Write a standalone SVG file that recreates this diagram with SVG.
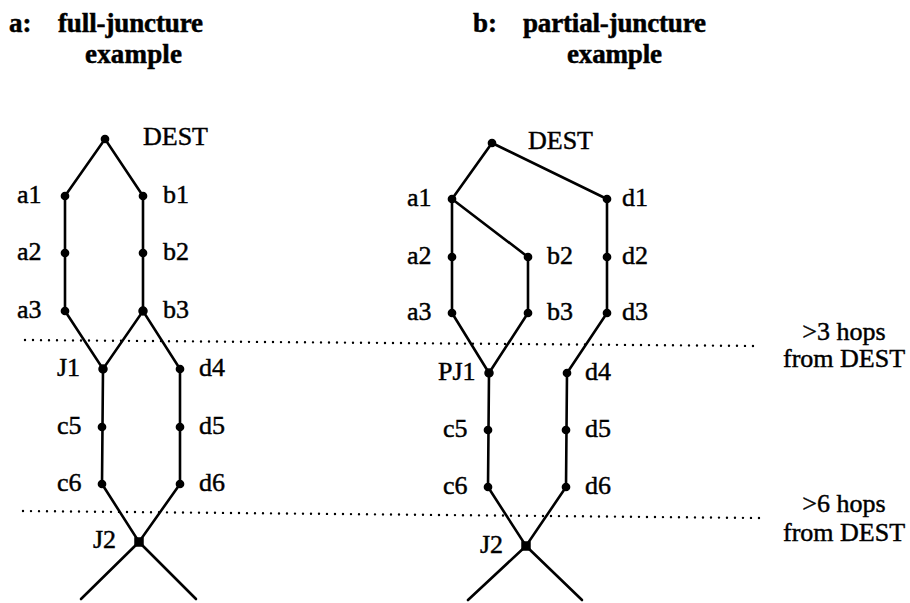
<svg xmlns="http://www.w3.org/2000/svg" width="910" height="603" viewBox="0 0 910 603">
  <style>
    .bg { fill: #ffffff; }
    .title { font-family: "Liberation Serif", "Times New Roman", serif; font-weight: bold; font-size: 27px; fill: #000; stroke: #000; stroke-width: 0.5; }
    .lbl { font-family: "Liberation Serif", "Times New Roman", serif; font-size: 26px; fill: #000; stroke: #000; stroke-width: 0.45; }
    .edge { stroke: #000; stroke-width: 2.6; fill: none; stroke-linecap: round; }
    .dots { stroke: #000; stroke-width: 2.4; fill: none; stroke-linecap: round; stroke-dasharray: 0 8; }
    .node { fill: #000; stroke: #000; stroke-width: 1.5; }
  </style>
  <rect class="bg" x="0" y="0" width="910" height="603"/>

  <!-- titles -->
  <g id="title-a">
    <text class="title" x="9" y="32">a:</text>
    <text class="title" x="58" y="32" textLength="145">full-juncture</text>
    <text class="title" x="85" y="63" textLength="97">example</text>
  </g>
  <g id="title-b">
    <text class="title" x="473" y="32">b:</text>
    <text class="title" x="523" y="32" textLength="183">partial-juncture</text>
    <text class="title" x="567" y="63" textLength="95">example</text>
  </g>

  <!-- hop-distance boundaries -->
  <g id="boundaries">
    <line class="dots" x1="25" y1="340" x2="760" y2="346"/>
    <line class="dots" x1="23" y1="511" x2="760" y2="518"/>
    <text class="lbl" x="844" y="340" text-anchor="middle">&gt;3 hops</text>
    <text class="lbl" x="844" y="367" text-anchor="middle">from DEST</text>
    <text class="lbl" x="844" y="512" text-anchor="middle">&gt;6 hops</text>
    <text class="lbl" x="844" y="541" text-anchor="middle">from DEST</text>
  </g>

  <!-- connectors -->
  <g id="connectors">
    <!-- full-juncture -->
    <polyline class="edge" points="65,196 105,139 143,196"/>
    <line class="edge" x1="65" y1="196" x2="65" y2="311"/>
    <line class="edge" x1="143" y1="196" x2="143" y2="311"/>
    <polyline class="edge" points="65,311 103,369 143,311 180,369"/>
    <line class="edge" x1="103" y1="369" x2="102" y2="484"/>
    <line class="edge" x1="180" y1="369" x2="180" y2="484"/>
    <polyline class="edge" points="102,484 139,542 180,484"/>
    <line class="edge" x1="139" y1="542" x2="81" y2="599"/>
    <line class="edge" x1="139" y1="542" x2="196" y2="599"/>
    <!-- partial-juncture -->
    <polyline class="edge" points="452,199 492,143 607,199"/>
    <line class="edge" x1="452" y1="199" x2="528" y2="257"/>
    <line class="edge" x1="452" y1="199" x2="452" y2="313"/>
    <line class="edge" x1="528" y1="257" x2="528" y2="313"/>
    <line class="edge" x1="607" y1="199" x2="607" y2="313"/>
    <polyline class="edge" points="452,313 489,373 528,313"/>
    <line class="edge" x1="607" y1="313" x2="567" y2="373"/>
    <line class="edge" x1="489" y1="373" x2="488" y2="487"/>
    <line class="edge" x1="567" y1="373" x2="566" y2="487"/>
    <polyline class="edge" points="488,487 526,546 566,487"/>
    <line class="edge" x1="526" y1="546" x2="468" y2="600"/>
    <line class="edge" x1="526" y1="546" x2="582" y2="600"/>
  </g>

  <!-- full-juncture nodes -->
  <g id="a-DEST"><circle class="node" cx="105" cy="139" r="3.6"/><text class="lbl" x="143" y="145">DEST</text></g>
  <g id="a-a1"><circle class="node" cx="65" cy="196" r="3.6"/><text class="lbl" x="17" y="203">a1</text></g>
  <g id="a-b1"><circle class="node" cx="143" cy="196" r="3.6"/><text class="lbl" x="163" y="203">b1</text></g>
  <g id="a-a2"><circle class="node" cx="65" cy="253" r="3.6"/><text class="lbl" x="17" y="260">a2</text></g>
  <g id="a-b2"><circle class="node" cx="143" cy="253" r="3.6"/><text class="lbl" x="163" y="260">b2</text></g>
  <g id="a-a3"><circle class="node" cx="65" cy="311" r="3.6"/><text class="lbl" x="17" y="318">a3</text></g>
  <g id="a-b3"><circle class="node" cx="143" cy="311" r="4"/><text class="lbl" x="163" y="318">b3</text></g>
  <g id="a-J1"><circle class="node" cx="103" cy="369" r="4"/><text class="lbl" x="57" y="376">J1</text></g>
  <g id="a-d4"><circle class="node" cx="180" cy="369" r="3.6"/><text class="lbl" x="199" y="376">d4</text></g>
  <g id="a-c5"><circle class="node" cx="102" cy="427" r="3.6"/><text class="lbl" x="57" y="434">c5</text></g>
  <g id="a-d5"><circle class="node" cx="180" cy="427" r="3.6"/><text class="lbl" x="199" y="434">d5</text></g>
  <g id="a-c6"><circle class="node" cx="102" cy="484" r="3.6"/><text class="lbl" x="57" y="491">c6</text></g>
  <g id="a-d6"><circle class="node" cx="180" cy="484" r="3.6"/><text class="lbl" x="199" y="491">d6</text></g>
  <g id="a-J2"><rect class="node" x="135" y="538" width="8" height="8"/><text class="lbl" x="93" y="548">J2</text></g>

  <!-- partial-juncture nodes -->
  <g id="b-DEST"><circle class="node" cx="492" cy="143" r="3.6"/><text class="lbl" x="528" y="149">DEST</text></g>
  <g id="b-a1"><circle class="node" cx="452" cy="199" r="3.6"/><text class="lbl" x="407" y="206">a1</text></g>
  <g id="b-d1"><circle class="node" cx="607" cy="199" r="3.6"/><text class="lbl" x="622" y="206">d1</text></g>
  <g id="b-a2"><circle class="node" cx="452" cy="257" r="3.6"/><text class="lbl" x="407" y="264">a2</text></g>
  <g id="b-b2"><circle class="node" cx="528" cy="257" r="3.6"/><text class="lbl" x="547" y="264">b2</text></g>
  <g id="b-d2"><circle class="node" cx="607" cy="257" r="3.6"/><text class="lbl" x="622" y="264">d2</text></g>
  <g id="b-a3"><circle class="node" cx="452" cy="313" r="3.6"/><text class="lbl" x="407" y="320">a3</text></g>
  <g id="b-b3"><circle class="node" cx="528" cy="313" r="3.6"/><text class="lbl" x="547" y="320">b3</text></g>
  <g id="b-d3"><circle class="node" cx="607" cy="313" r="3.6"/><text class="lbl" x="622" y="320">d3</text></g>
  <g id="b-PJ1"><circle class="node" cx="489" cy="373" r="4"/><text class="lbl" x="438" y="380">PJ1</text></g>
  <g id="b-d4"><circle class="node" cx="567" cy="373" r="3.6"/><text class="lbl" x="585" y="380">d4</text></g>
  <g id="b-c5"><circle class="node" cx="488" cy="430" r="3.6"/><text class="lbl" x="443" y="437">c5</text></g>
  <g id="b-d5"><circle class="node" cx="566" cy="430" r="3.6"/><text class="lbl" x="585" y="437">d5</text></g>
  <g id="b-c6"><circle class="node" cx="488" cy="487" r="3.6"/><text class="lbl" x="443" y="494">c6</text></g>
  <g id="b-d6"><circle class="node" cx="566" cy="487" r="3.6"/><text class="lbl" x="585" y="494">d6</text></g>
  <g id="b-J2"><rect class="node" x="522" y="542" width="8" height="8"/><text class="lbl" x="480" y="553">J2</text></g>
</svg>
